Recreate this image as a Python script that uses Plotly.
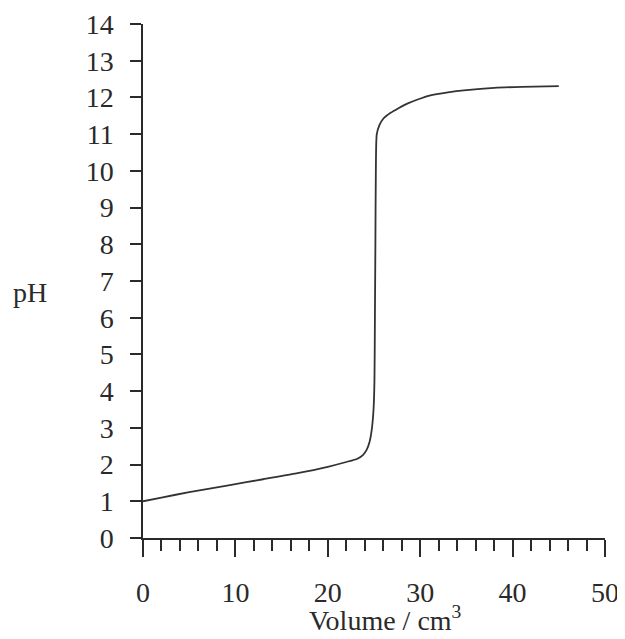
import plotly.graph_objects as go

volume = [0, 2, 5, 9.4, 13, 16.6, 20, 22, 23.2, 23.8, 24.2, 24.5, 24.75, 24.95, 25.05,
          25.1, 25.15, 25.2, 25.3, 25.6, 26.0, 26.8, 27.6, 28.6, 29.8, 31, 33, 35, 38, 41, 45]
ph = [1.0, 1.1, 1.25, 1.44, 1.6, 1.76, 1.94, 2.07, 2.16, 2.26, 2.4, 2.6, 2.94, 3.5, 4.3,
      6.0, 8.0, 10.0, 11.0, 11.25, 11.42, 11.58, 11.7, 11.83, 11.95, 12.05, 12.14, 12.2, 12.26, 12.29, 12.31]

x_ticks = [0, 10, 20, 30, 40, 50]
y_ticks = list(range(0, 15))

FONT = "Liberation Serif"
INK = "#2a2a2a"
FS = 28

fig = go.Figure()
fig.add_trace(go.Scatter(x=volume, y=ph, mode="lines",
                         line=dict(color="#333333", width=1.8, shape="spline", smoothing=0.6),
                         hoverinfo="skip", showlegend=False))

fig.update_layout(
    width=617, height=631,
    margin=dict(l=135, r=20, t=16, b=101, autoexpand=False),
    paper_bgcolor="white", plot_bgcolor="white",
    font=dict(family=FONT, size=FS, color=INK),
    xaxis=dict(range=[0, 50], tickvals=x_ticks, ticktext=[str(v) for v in x_ticks],
               ticks="outside", ticklen=17, tickwidth=1.5, tickcolor=INK,
               showline=True, linecolor=INK, linewidth=1.5, showgrid=False, zeroline=False,
               automargin=False, ticklabelstandoff=12,
               minor=dict(dtick=2, ticks="outside", ticklen=11, tickwidth=1.5, tickcolor=INK,
                          showgrid=False),
               tickfont=dict(family=FONT, size=FS, color=INK)),
    yaxis=dict(range=[0, 14], tickvals=y_ticks, ticktext=[str(v) for v in y_ticks],
               ticks="outside", ticklen=11, tickwidth=1.5, tickcolor=INK,
               showline=True, linecolor=INK, linewidth=1.5, showgrid=False, zeroline=False,
               automargin=False, ticklabelstandoff=11,
               tickfont=dict(family=FONT, size=FS, color=INK)),
    annotations=[
        dict(text="pH", x=-0.245, y=0.478, xref="paper", yref="paper",
             xanchor="center", yanchor="middle", showarrow=False,
             font=dict(family=FONT, size=FS, color=INK)),
        dict(text="Volume / cm<sup>3</sup>", x=0.524, y=-0.156, xref="paper", yref="paper",
             xanchor="center", yanchor="middle", showarrow=False,
             font=dict(family=FONT, size=FS, color=INK)),
    ],
)

fig.write_html("out.html")
